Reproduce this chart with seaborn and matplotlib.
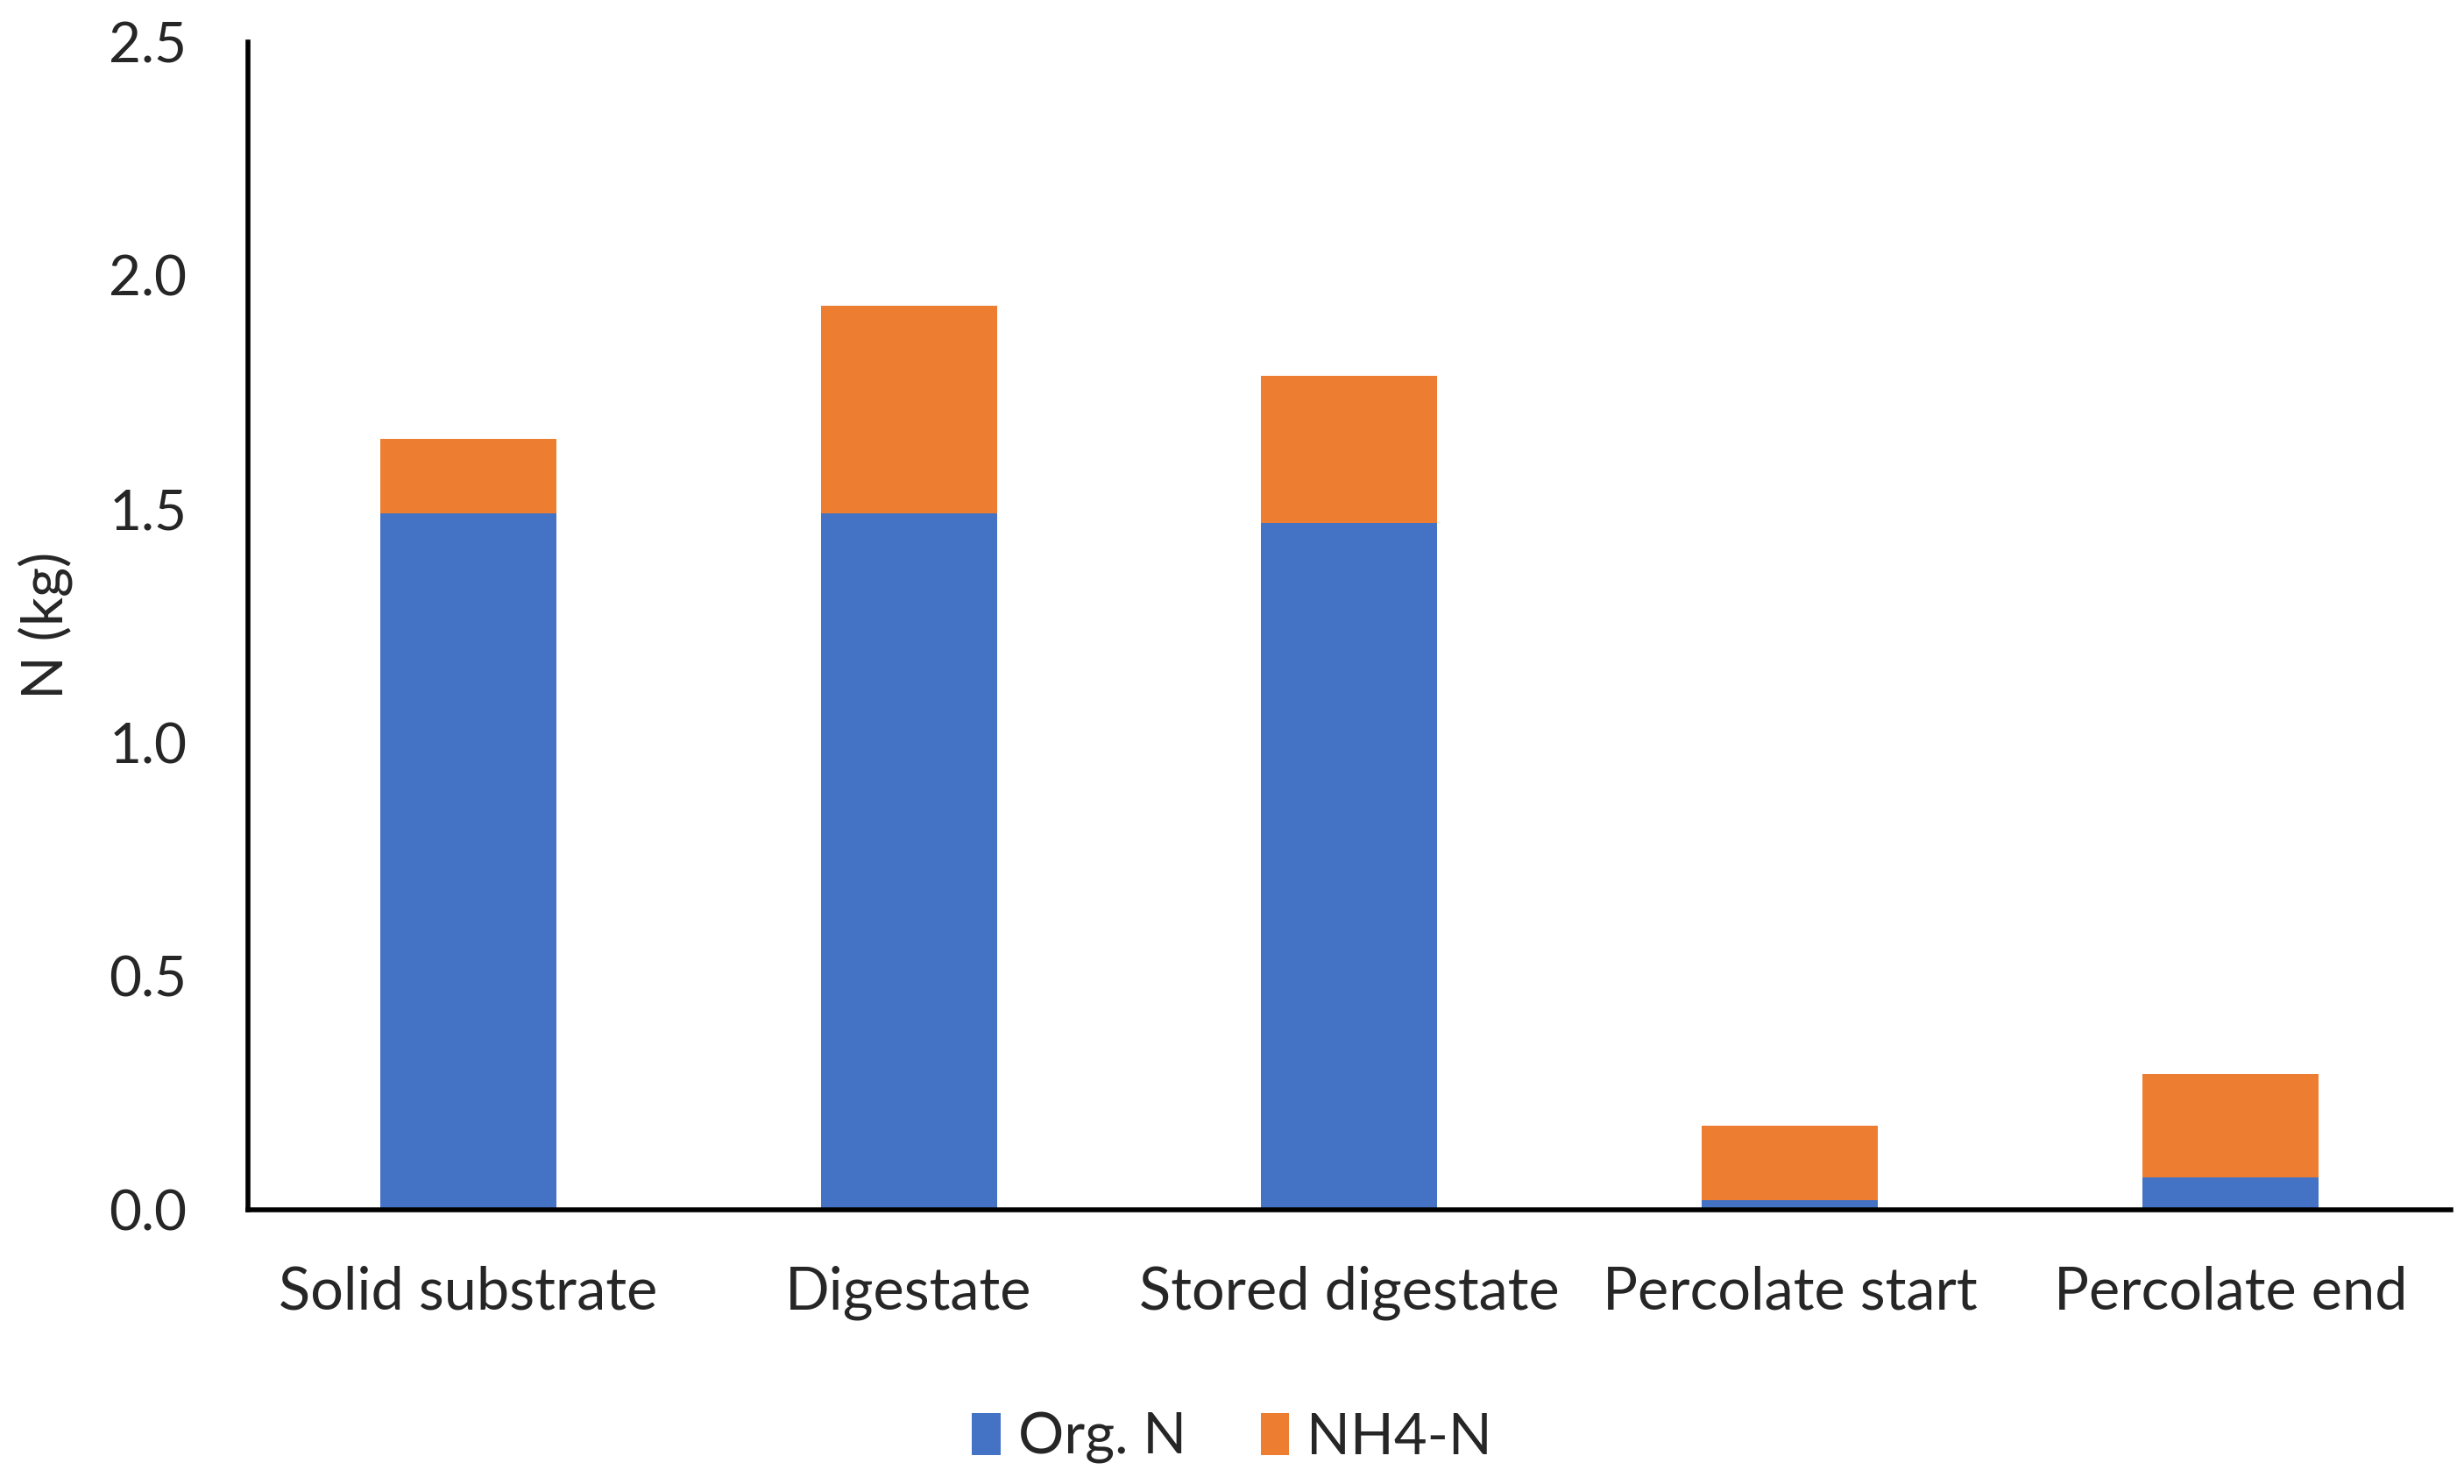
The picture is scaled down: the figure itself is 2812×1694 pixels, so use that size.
import matplotlib
matplotlib.use("Agg")
import matplotlib.pyplot as plt
import seaborn as sns
import numpy as np
from matplotlib.patches import Patch

categories = ["Solid substrate", "Digestate", "Stored digestate", "Percolate start", "Percolate end"]
org_n = [1.49, 1.49, 1.47, 0.02, 0.07]
nh4_n = [0.16, 0.445, 0.315, 0.16, 0.22]
series_names = ["Org. N", "NH4-N"]
yticks = [0.0, 0.5, 1.0, 1.5, 2.0, 2.5]

blue = "#4472C4"
orange = "#ED7D31"

sns.set_theme(style="white")
plt.rcParams['font.family'] = ['Lato', 'DejaVu Sans']

fig = plt.figure(figsize=(28.12, 16.94), dpi=100)
ax = fig.add_axes([0.1006, 0.1848, 0.894, 0.787])

total = [o + n for o, n in zip(org_n, nh4_n)]
sns.barplot(x=categories, y=total, color=orange, width=0.4, saturation=1, ax=ax, linewidth=0)
sns.barplot(x=categories, y=org_n, color=blue, width=0.4, saturation=1, ax=ax, linewidth=0)

ax.set_ylim(0, 2.5)
ax.set_xlim(-0.5, len(categories) - 0.5)
ax.set_yticks(yticks)
ax.set_yticklabels([f"{v:.1f}" for v in yticks])
ax.tick_params(axis='y', length=0, pad=50, labelsize=46)
ax.tick_params(axis='x', length=0, pad=46, labelsize=48)
ax.set_ylabel("N (kg)", fontsize=47, labelpad=30)
ax.set_xlabel("")

for s in ["top", "right"]:
    ax.spines[s].set_visible(False)
for s in ["left", "bottom"]:
    ax.spines[s].set_color("black")
    ax.spines[s].set_linewidth(4)

handles = [Patch(facecolor=blue, edgecolor='none'), Patch(facecolor=orange, edgecolor='none')]
fig.legend(handles, series_names, loc="center", bbox_to_anchor=(0.5, 0.031), ncol=2,
           frameon=False, fontsize=47, handlelength=0.5, handleheight=0.75,
           handletextpad=0.3, columnspacing=1.3)

fig.savefig("out.png", dpi=100, facecolor="white")
